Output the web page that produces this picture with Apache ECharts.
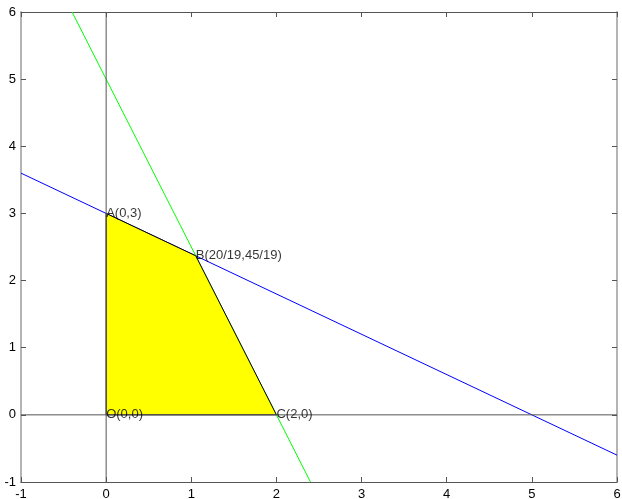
<!DOCTYPE html>
<html>
<head>
<meta charset="utf-8">
<script src="https://cdn.jsdelivr.net/npm/echarts@6/dist/echarts.min.js"></script>
<style>
  html, body { margin: 0; padding: 0; background: #fff; }
  #chart { width: 622px; height: 499px; }
</style>
</head>
<body>
<div id="chart"></div>
<script>
// Axis range and ticks
const xTicks = [-1, 0, 1, 2, 3, 4, 5, 6];
const yTicks = [-1, 0, 1, 2, 3, 4, 5, 6];

// Constraint lines (endpoints across the visible window)
const blueLine = [[-1, 3.6], [6, -0.6]];      // 3x + 5y = 15
const greenLine = [[-0.4, 6], [2.4, -1]];     // 5x + 2y = 10

// Feasible region vertices
const regionPts = [[0, 0], [0, 3], [20 / 19, 45 / 19], [2, 0]];
const vertexNames = ['O(0,0)', 'A(0,3)', 'B(20/19,45/19)', 'C(2,0)'];

// Coordinate axes through the origin
const xAxisLine = [[-1, 0], [6, 0]];
const yAxisLine = [[0, -1], [0, 6]];

const FONT = '"Liberation Sans", Helvetica, Arial, sans-serif';
const frameDark = '#555555';
const frameLight = '#b4b4b4';

const chart = echarts.init(document.getElementById('chart'), null, { renderer: 'canvas' });

function xAx(pos, showLabel, lineColor) {
  return {
    type: 'value', position: pos, min: xTicks[0], max: xTicks[xTicks.length - 1], interval: 1,
    axisLine: { show: true, onZero: false, lineStyle: { color: lineColor, width: 1 } },
    axisTick: { show: true, inside: true, length: 5, lineStyle: { color: frameDark } },
    axisLabel: { show: showLabel, margin: 6, color: '#000', fontSize: 13, fontFamily: FONT },
    splitLine: { show: false }
  };
}
function yAx(pos, showLabel, lineColor) {
  return {
    type: 'value', position: pos, min: yTicks[0], max: yTicks[yTicks.length - 1], interval: 1,
    axisLine: { show: true, onZero: false, lineStyle: { color: lineColor, width: 2 } },
    axisTick: { show: true, inside: true, length: 5, lineStyle: { color: frameDark } },
    axisLabel: { show: showLabel, margin: 5, color: '#000', fontSize: 13, fontFamily: FONT },
    splitLine: { show: false }
  };
}

const option = {
  animation: false,
  backgroundColor: '#fff',
  grid: { left: 21, right: 5, top: 12, bottom: 17, containLabel: false, outerBoundsMode: 'none' },
  xAxis: [xAx('bottom', true, frameDark), xAx('top', false, frameDark)],
  yAxis: [yAx('left', true, frameLight), yAx('right', false, frameLight)],
  series: [
    {
      type: 'line', data: blueLine, symbol: 'none', z: 1,
      lineStyle: { color: '#0000ff', width: 1 }
    },
    {
      type: 'line', data: greenLine, symbol: 'none', z: 1,
      lineStyle: { color: '#00ff00', width: 1 }
    },
    {
      type: 'custom',
      coordinateSystem: 'cartesian2d',
      data: [0],
      z: 2,
      renderItem: function (params, api) {
        const pts = regionPts.map(p => api.coord(p));
        return {
          type: 'polygon',
          shape: { points: pts },
          style: { fill: '#ffff00', stroke: '#000', lineWidth: 1 }
        };
      }
    },
    {
      type: 'line', data: xAxisLine, symbol: 'none', z: 3,
      lineStyle: { color: frameDark, width: 1 }
    },
    {
      type: 'line', data: yAxisLine, symbol: 'none', z: 3,
      lineStyle: { color: frameDark, width: 1 }
    },
    {
      type: 'scatter', z: 5, symbolSize: 0,
      data: regionPts.map((p, i) => ({ value: p, name: vertexNames[i] })),
      label: {
        show: true, position: 'right', distance: 0,
        formatter: p => p.name,
        color: '#000', fontSize: 13, fontFamily: FONT
      }
    }
  ]
};

chart.setOption(option);
</script>
</body>
</html>
